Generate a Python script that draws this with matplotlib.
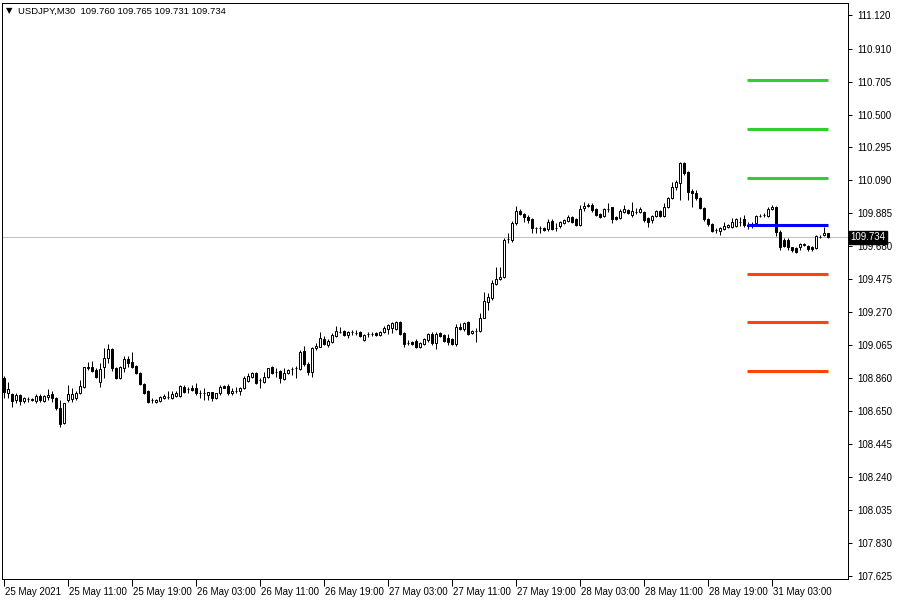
import matplotlib
matplotlib.use("Agg")
import matplotlib.pyplot as plt
import matplotlib.transforms as mtransforms
import numpy as np

plt.rcParams['font.family'] = ['Liberation Sans', 'DejaVu Sans']

symbol_text = "USDJPY,M30  109.760 109.765 109.731 109.734"

opens = [
    108.858, 108.765, 108.759, 108.721, 108.752, 108.715, 108.727, 108.721, 108.715, 108.746,
    108.715, 108.740, 108.759, 108.734, 108.671, 108.578, 108.721, 108.727, 108.734, 108.765,
    108.802, 108.921, 108.927, 108.908, 108.834, 108.927, 108.983, 109.039, 108.921, 108.858,
    108.921, 108.977, 108.958, 108.933, 108.889, 108.821, 108.777, 108.721, 108.709, 108.715,
    108.734, 108.740, 108.734, 108.746, 108.746, 108.802, 108.790, 108.796, 108.796, 108.765,
    108.765, 108.752, 108.771, 108.734, 108.765, 108.809, 108.809, 108.765, 108.777, 108.777,
    108.796, 108.840, 108.865, 108.889, 108.846, 108.834, 108.865, 108.927, 108.896, 108.902,
    108.852, 108.889, 108.914, 108.921, 108.914, 109.027, 108.946, 108.896, 109.045, 109.051,
    109.101, 109.064, 109.083, 109.120, 109.145, 109.151, 109.126, 109.145, 109.139, 109.145,
    109.095, 109.132, 109.132, 109.139, 109.126, 109.145, 109.164, 109.170, 109.164, 109.207,
    109.139, 109.076, 109.083, 109.089, 109.051, 109.070, 109.095, 109.132, 109.076, 109.139,
    109.126, 109.108, 109.101, 109.070, 109.176, 109.164, 109.207, 109.139, 109.151, 109.151,
    109.232, 109.332, 109.357, 109.444, 109.475, 109.488, 109.724, 109.718, 109.824, 109.899,
    109.880, 109.861, 109.849, 109.793, 109.793, 109.793, 109.787, 109.837, 109.793, 109.805,
    109.824, 109.837, 109.861, 109.849, 109.812, 109.918, 109.930, 109.936, 109.911, 109.880,
    109.868, 109.911, 109.924, 109.861, 109.855, 109.893, 109.905, 109.874, 109.893, 109.893,
    109.893, 109.855, 109.843, 109.868, 109.899, 109.868, 109.924, 109.980, 110.048, 110.073,
    110.198, 110.142, 110.023, 110.011, 109.980, 109.918, 109.849, 109.818, 109.780, 109.774,
    109.787, 109.799, 109.799, 109.805, 109.830, 109.849, 109.812,
    109.812, 109.824, 109.868, 109.874, 109.868, 109.911, 109.924, 109.768, 109.718, 109.718,
    109.674, 109.668, 109.674, 109.687, 109.681, 109.674, 109.668, 109.737, 109.749, 109.760,
]
highs = [
    108.871, 108.834, 108.765, 108.765, 108.759, 108.740, 108.740, 108.734, 108.759, 108.759,
    108.752, 108.790, 108.777, 108.740, 108.721, 108.703, 108.815, 108.796, 108.777, 108.846,
    108.927, 108.958, 108.964, 108.921, 108.952, 109.045, 109.070, 109.045, 108.927, 108.933,
    108.995, 108.995, 109.020, 108.939, 108.896, 108.827, 108.784, 108.734, 108.727, 108.746,
    108.759, 108.777, 108.777, 108.777, 108.815, 108.815, 108.802, 108.815, 108.827, 108.784,
    108.796, 108.771, 108.771, 108.765, 108.815, 108.815, 108.821, 108.796, 108.802, 108.802,
    108.871, 108.889, 108.896, 108.896, 108.858, 108.896, 108.921, 108.933, 108.921, 108.908,
    108.921, 108.914, 108.927, 108.933, 109.033, 109.058, 108.958, 109.051, 109.076, 109.145,
    109.120, 109.101, 109.139, 109.182, 109.176, 109.157, 109.151, 109.157, 109.157, 109.151,
    109.132, 109.145, 109.145, 109.145, 109.151, 109.182, 109.195, 109.207, 109.213, 109.213,
    109.145, 109.095, 109.089, 109.101, 109.083, 109.108, 109.139, 109.145, 109.145, 109.145,
    109.132, 109.132, 109.108, 109.195, 109.201, 109.207, 109.213, 109.157, 109.170, 109.263,
    109.394, 109.388, 109.469, 109.550, 109.550, 109.731, 109.762, 109.837, 109.930, 109.911,
    109.886, 109.874, 109.855, 109.799, 109.805, 109.799, 109.849, 109.849, 109.824, 109.837,
    109.849, 109.874, 109.868, 109.855, 109.936, 109.955, 109.949, 109.949, 109.918, 109.886,
    109.918, 109.949, 109.924, 109.868, 109.911, 109.936, 109.911, 109.955, 109.918, 109.924,
    109.899, 109.861, 109.874, 109.905, 109.905, 109.949, 109.986, 110.080, 110.092, 110.204,
    110.204, 110.148, 110.036, 110.030, 109.986, 109.924, 109.855, 109.824, 109.793, 109.799,
    109.830, 109.818, 109.855, 109.855, 109.861, 109.874, 109.830,
    109.830, 109.874, 109.880, 109.886, 109.924, 109.936, 109.930, 109.780, 109.731, 109.731,
    109.674, 109.674, 109.700, 109.700, 109.687, 109.681, 109.749, 109.749, 109.799, 109.765,
]
lows = [
    108.734, 108.734, 108.678, 108.703, 108.690, 108.703, 108.709, 108.715, 108.703, 108.709,
    108.709, 108.721, 108.709, 108.659, 108.553, 108.572, 108.709, 108.709, 108.721, 108.759,
    108.796, 108.908, 108.896, 108.858, 108.802, 108.858, 108.952, 108.902, 108.852, 108.852,
    108.896, 108.927, 108.921, 108.883, 108.815, 108.759, 108.703, 108.703, 108.703, 108.709,
    108.727, 108.727, 108.727, 108.740, 108.740, 108.765, 108.765, 108.777, 108.752, 108.734,
    108.721, 108.721, 108.715, 108.727, 108.752, 108.796, 108.752, 108.752, 108.765, 108.752,
    108.790, 108.834, 108.858, 108.821, 108.796, 108.827, 108.858, 108.883, 108.865, 108.827,
    108.846, 108.883, 108.877, 108.858, 108.908, 108.933, 108.877, 108.865, 109.033, 109.051,
    109.064, 109.051, 109.076, 109.114, 109.139, 109.120, 109.108, 109.126, 109.126, 109.114,
    109.089, 109.114, 109.120, 109.120, 109.120, 109.139, 109.132, 109.139, 109.157, 109.126,
    109.051, 109.064, 109.064, 109.045, 109.045, 109.064, 109.083, 109.064, 109.039, 109.114,
    109.083, 109.064, 109.064, 109.058, 109.157, 109.151, 109.126, 109.132, 109.083, 109.145,
    109.232, 109.282, 109.344, 109.438, 109.469, 109.482, 109.700, 109.706, 109.812, 109.874,
    109.830, 109.824, 109.762, 109.762, 109.762, 109.774, 109.774, 109.780, 109.774, 109.793,
    109.818, 109.830, 109.824, 109.805, 109.805, 109.899, 109.924, 109.893, 109.868, 109.855,
    109.861, 109.893, 109.824, 109.843, 109.849, 109.886, 109.880, 109.861, 109.880, 109.886,
    109.830, 109.799, 109.824, 109.861, 109.861, 109.861, 109.918, 109.974, 110.030, 109.967,
    110.123, 109.967, 109.924, 109.967, 109.911, 109.837, 109.805, 109.768, 109.762, 109.749,
    109.780, 109.793, 109.793, 109.799, 109.805, 109.799, 109.787,
    109.793, 109.812, 109.861, 109.861, 109.861, 109.905, 109.743, 109.656, 109.674, 109.656,
    109.643, 109.637, 109.656, 109.681, 109.650, 109.650, 109.662, 109.731, 109.743, 109.731,
]
closes = [
    108.771, 108.790, 108.715, 108.752, 108.715, 108.734, 108.728, 108.727, 108.746, 108.721,
    108.746, 108.752, 108.734, 108.671, 108.572, 108.703, 108.759, 108.759, 108.765, 108.809,
    108.927, 108.927, 108.902, 108.865, 108.914, 108.983, 109.039, 108.921, 108.858, 108.927,
    108.977, 108.952, 108.927, 108.889, 108.821, 108.765, 108.709, 108.720, 108.721, 108.740,
    108.746, 108.741, 108.759, 108.765, 108.809, 108.771, 108.789, 108.784, 108.765, 108.764,
    108.766, 108.771, 108.734, 108.765, 108.802, 108.796, 108.765, 108.777, 108.778, 108.796,
    108.858, 108.871, 108.889, 108.827, 108.845, 108.865, 108.921, 108.889, 108.895, 108.858,
    108.889, 108.908, 108.915, 108.922, 109.020, 108.946, 108.896, 109.045, 109.058, 109.108,
    109.070, 109.089, 109.126, 109.151, 109.146, 109.126, 109.145, 109.144, 109.140, 109.120,
    109.126, 109.133, 109.131, 109.126, 109.145, 109.170, 109.188, 109.201, 109.207, 109.132,
    109.070, 109.077, 109.070, 109.051, 109.076, 109.101, 109.132, 109.076, 109.132, 109.120,
    109.089, 109.083, 109.070, 109.176, 109.164, 109.201, 109.132, 109.151, 109.152, 109.232,
    109.338, 109.363, 109.450, 109.475, 109.488, 109.718, 109.725, 109.824, 109.899, 109.880,
    109.861, 109.843, 109.793, 109.792, 109.794, 109.780, 109.830, 109.787, 109.792, 109.830,
    109.843, 109.861, 109.830, 109.812, 109.911, 109.930, 109.936, 109.905, 109.874, 109.861,
    109.911, 109.912, 109.849, 109.849, 109.899, 109.911, 109.886, 109.899, 109.894, 109.911,
    109.843, 109.830, 109.868, 109.899, 109.868, 109.924, 109.980, 110.048, 110.080, 110.198,
    110.136, 110.017, 110.011, 109.980, 109.918, 109.849, 109.818, 109.774, 109.779, 109.793,
    109.805, 109.812, 109.830, 109.849, 109.829, 109.812, 109.805,
    109.811, 109.868, 109.867, 109.873, 109.911, 109.924, 109.768, 109.674, 109.681, 109.674,
    109.656, 109.643, 109.693, 109.694, 109.662, 109.662, 109.743, 109.736, 109.762, 109.734,
]

# time axis labels (bar number, label)
date_ticks = [1, 17, 33, 49, 65, 81, 97, 113, 129, 145, 161, 177, 193]
date_labels = ["25 May 2021", "25 May 11:00", "25 May 19:00", "26 May 03:00",
               "26 May 11:00", "26 May 19:00", "27 May 03:00", "27 May 11:00",
               "27 May 19:00", "28 May 03:00", "28 May 11:00", "28 May 19:00",
               "31 May 03:00"]

price_ticks = [111.120, 110.910, 110.705, 110.500, 110.295, 110.090, 109.885, 109.680,
               109.475, 109.270, 109.065, 108.860, 108.650, 108.445, 108.240, 108.035,
               107.830, 107.625]
price_labels = ["%.3f" % v for v in price_ticks]

# pivot levels drawn for the current day
resistance_levels = [110.715, 110.410, 110.104]
pivot_level = 109.812
support_levels = [109.506, 109.207, 108.902]
pivot_start_bar = 187
current_price = 109.734

W, H = 900, 600
fig = plt.figure(figsize=(9, 6), dpi=100)
ax = fig.add_axes([2 / W, 21 / H, 846 / W, 576 / H])
ax.set_facecolor("white")

n = len(opens)
idx = np.arange(1, n + 1)
o = np.array(opens); c = np.array(closes)
h = np.maximum(np.array(highs), np.maximum(o, c))
l = np.minimum(np.array(lows), np.minimum(o, c))

lw = 72 / 100  # one pixel
ax.vlines(idx, l, h, color="black", linewidth=lw, zorder=2)
up = c >= o
body_lo = np.minimum(o, c)
body_h = np.abs(c - o)
ax.bar(idx[up], body_h[up], bottom=body_lo[up], width=0.6, color="white",
       edgecolor="black", linewidth=lw, zorder=3)
ax.bar(idx[~up], body_h[~up], bottom=body_lo[~up], width=0.6, color="black",
       edgecolor="black", linewidth=lw, zorder=3)

# current price line
ax.axhline(current_price, color="#c0c0c0", linewidth=lw, zorder=1)

# pivot lines
x0, x1 = pivot_start_bar - 0.25, n
for v in resistance_levels:
    ax.hlines(v, x0, x1, color="#32cd32", linewidth=2.2, zorder=4)
for v in support_levels:
    ax.hlines(v, x0, x1, color="#ff4500", linewidth=2.2, zorder=4)
ax.hlines(pivot_level, x0, x1, color="#0000ff", linewidth=2.2, zorder=4)

ax.set_xlim(0.5, 212)
ax.set_ylim(107.606, 111.195)

for s in ax.spines.values():
    s.set_color("black")
    s.set_linewidth(lw)

ax.yaxis.tick_right()
ax.set_yticks(price_ticks)
ax.set_yticklabels(price_labels)
ax.tick_params(axis="y", direction="out", length=3, width=lw, pad=4, labelsize=7,
               colors="black")
ax.set_xticks(date_ticks)
ax.set_xticklabels(date_labels)
ax.tick_params(axis="x", direction="out", length=5, width=lw, pad=1, labelsize=7,
               colors="black")
offset = mtransforms.ScaledTranslation(0.5 / 72, 0, fig.dpi_scale_trans)
for lbl in ax.get_xticklabels():
    lbl.set_horizontalalignment("left")
    lbl.set_transform(lbl.get_transform() + offset)

# current price label on the axis
ax.text(1.003, current_price, "%.3f" % current_price, transform=ax.get_yaxis_transform(),
        ha="left", va="center", fontsize=7, color="white", zorder=10,
        bbox=dict(boxstyle="square,pad=0.15", facecolor="black", edgecolor="black"),
        clip_on=False)

fig.text(6 / W, 1 - 11 / H, "\u25BC", fontsize=6, va="center", ha="left",
         family=["DejaVu Sans"])
fig.text(18 / W, 1 - 11 / H, symbol_text, fontsize=6.8, va="center", ha="left")

fig.savefig("out.png", dpi=100, facecolor="white")
